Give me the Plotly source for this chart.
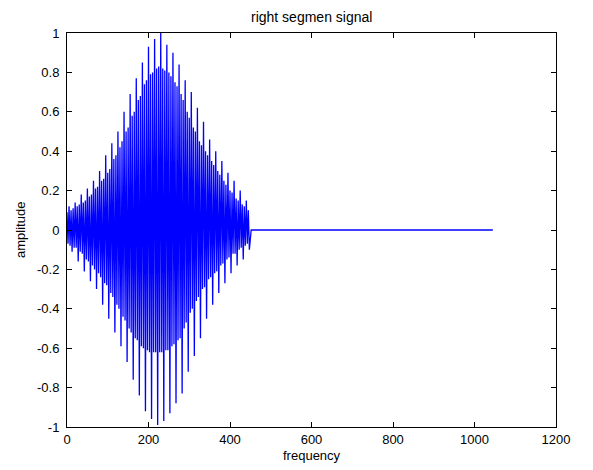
import plotly.graph_objects as go

# Positive half-cycle peaks (one every 5 samples, starting at 0)
upper_peaks = [
    0.09, 0.12, 0.10, 0.11, 0.14,
    0.12, 0.13, 0.18, 0.14, 0.15,
    0.21, 0.17, 0.18, 0.25, 0.21,
    0.22, 0.30, 0.25, 0.26, 0.38,
    0.29, 0.31, 0.44, 0.36, 0.38,
    0.50, 0.42, 0.45, 0.60, 0.50,
    0.52, 0.69, 0.58, 0.60, 0.77,
    0.66, 0.68, 0.85, 0.74, 0.76,
    0.93, 0.79, 0.80, 0.97, 0.82,
    0.83, 1.00, 0.82, 0.81, 0.94,
    0.80, 0.78, 0.90, 0.75, 0.73,
    0.84, 0.69, 0.66, 0.76, 0.60,
    0.57, 0.70, 0.52, 0.50, 0.62,
    0.45, 0.43, 0.55, 0.40, 0.38,
    0.46, 0.35, 0.33, 0.40, 0.30,
    0.28, 0.35, 0.25, 0.23, 0.29,
    0.20, 0.19, 0.25, 0.16, 0.15,
    0.20, 0.13, 0.12, 0.15, 0.10,
]
# Negative half-cycle peaks (offset by half a step)
lower_peaks = [
    -0.07, -0.08, -0.11, -0.09, -0.09,
    -0.16, -0.11, -0.12, -0.21, -0.15,
    -0.16, -0.26, -0.18, -0.20, -0.30,
    -0.22, -0.24, -0.38, -0.27, -0.28,
    -0.45, -0.32, -0.34, -0.52, -0.38,
    -0.40, -0.59, -0.44, -0.46, -0.67,
    -0.50, -0.52, -0.76, -0.55, -0.56,
    -0.84, -0.59, -0.60, -0.92, -0.61,
    -0.62, -0.96, -0.62, -0.62, -0.99,
    -0.62, -0.62, -0.97, -0.61, -0.61,
    -0.93, -0.59, -0.58, -0.88, -0.56,
    -0.55, -0.83, -0.50, -0.47, -0.72,
    -0.42, -0.40, -0.64, -0.36, -0.34,
    -0.55, -0.30, -0.29, -0.45, -0.25,
    -0.24, -0.38, -0.22, -0.21, -0.32,
    -0.18, -0.17, -0.27, -0.15, -0.14,
    -0.22, -0.12, -0.12, -0.18, -0.10,
    -0.09, -0.15, -0.08, -0.07, -0.10,
]
sample_step = 5
tail_x = [452, 1045]   # silent tail of the segment
tail_y = [0.0, 0.0]

x_ticks = [0, 200, 400, 600, 800, 1000, 1200]
y_ticks = [-1, -0.8, -0.6, -0.4, -0.2, 0, 0.2, 0.4, 0.6, 0.8, 1]
y_tick_labels = ["-1", "-0.8", "-0.6", "-0.4", "-0.2", "0", "0.2", "0.4", "0.6", "0.8", "1"]

xs, ys = [], []
for i, (u, l) in enumerate(zip(upper_peaks, lower_peaks)):
    xs.append(i * sample_step)
    ys.append(u)
    xs.append(i * sample_step + sample_step / 2)
    ys.append(l)
xs += tail_x
ys += tail_y

fig = go.Figure(go.Scatter(x=xs, y=ys, mode="lines",
                           line=dict(color="#0000FF", width=1.3),
                           hoverinfo="skip"))

FONT = "Liberation Sans, Arial, sans-serif"
font = dict(family=FONT, size=13, color="black")
axis_common = dict(showline=True, linecolor="black", linewidth=1, mirror="allticks",
                   ticks="inside", ticklen=5, tickcolor="black", showgrid=False,
                   zeroline=False, tickfont=font, automargin=False)

# the page body adds an 8px offset on the left and top
OFF = 8
W, H = 593 - OFF, 470 - OFF
L, R, T, B = 67 - OFF, 37, 33 - OFF, 43

fig.update_layout(
    width=W, height=H,
    margin=dict(l=L, r=R, t=T, b=B),
    paper_bgcolor="white", plot_bgcolor="white",
    showlegend=False,
    xaxis=dict(range=[0, 1200], tickvals=x_ticks, ticktext=[str(t) for t in x_ticks],
               **axis_common),
    yaxis=dict(range=[-1, 1], tickvals=y_ticks, ticktext=y_tick_labels,
               ticklabelstandoff=4, **axis_common),
    annotations=[
        dict(text="right segmen signal", xref="paper", yref="paper",
             x=0.5, y=1, yshift=16, xanchor="center", yanchor="middle",
             showarrow=False, font=dict(family=FONT, size=14, color="black")),
        dict(text="frequency", xref="paper", yref="paper",
             x=0.5, y=0, yshift=-28, xanchor="center", yanchor="middle",
             showarrow=False, font=font),
        dict(text="amplitude", xref="paper", yref="paper",
             x=0, y=0.5, xshift=-47, xanchor="center", yanchor="middle",
             textangle=-90, showarrow=False, font=font),
    ],
)

fig.write_html("out.html")
